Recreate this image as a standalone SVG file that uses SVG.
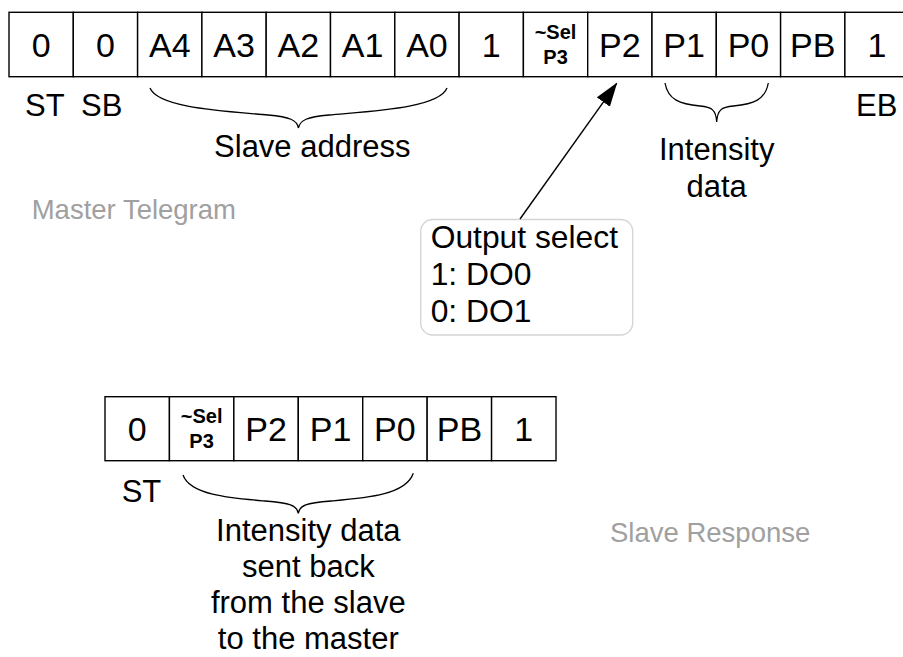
<svg xmlns="http://www.w3.org/2000/svg" width="903" height="657" viewBox="0 0 903 657">
<style>
  text { font-family: "Liberation Sans", Arial, sans-serif; fill: #000; }
  .cell { fill: #fff; stroke: #000; stroke-width: 1.4; }
  .big { font-size: 34px; text-anchor: middle; }
  .sm { font-size: 20px; font-weight: bold; text-anchor: middle; }
  .lbl { font-size: 31px; }
  .note-t { font-size: 31.8px; }
  .mid { text-anchor: middle; }
  .gray { font-size: 27.5px; fill: #a0a0a0; }
  .brace { fill: none; stroke: #000; stroke-width: 1.3; }
  .note { fill: #fff; stroke: #d4d4d4; stroke-width: 1.3; }
  .conn { fill: none; stroke: #000; stroke-width: 1.4; }
</style>
<defs>
  <marker id="arr" markerUnits="userSpaceOnUse" viewBox="0 0 24 16" refX="23" refY="8" markerWidth="24" markerHeight="16" orient="auto">
    <path d="M0,0 L24,8 L0,16 Z" fill="#000"/>
  </marker>
</defs>

<g id="master-telegram">
  <rect class="cell" x="9" y="12.3" width="64.3" height="64.4"/>
  <text class="big" x="41.15" y="56.5">0</text>
  <rect class="cell" x="73.3" y="12.3" width="64.3" height="64.4"/>
  <text class="big" x="105.45" y="56.5">0</text>
  <rect class="cell" x="137.6" y="12.3" width="64.3" height="64.4"/>
  <text class="big" x="169.75" y="56.5">A4</text>
  <rect class="cell" x="201.9" y="12.3" width="64.3" height="64.4"/>
  <text class="big" x="234.05" y="56.5">A3</text>
  <rect class="cell" x="266.2" y="12.3" width="64.3" height="64.4"/>
  <text class="big" x="298.35" y="56.5">A2</text>
  <rect class="cell" x="330.5" y="12.3" width="64.3" height="64.4"/>
  <text class="big" x="362.65" y="56.5">A1</text>
  <rect class="cell" x="394.8" y="12.3" width="64.3" height="64.4"/>
  <text class="big" x="426.95" y="56.5">A0</text>
  <rect class="cell" x="459.1" y="12.3" width="64.3" height="64.4"/>
  <text class="big" x="491.25" y="56.5">1</text>
  <rect class="cell" x="523.4" y="12.3" width="64.3" height="64.4"/>
  <text class="sm" x="555.55" y="38.5">~Sel</text>
  <text class="sm" x="555.55" y="63.5">P3</text>
  <rect class="cell" x="587.7" y="12.3" width="64.3" height="64.4"/>
  <text class="big" x="619.85" y="56.5">P2</text>
  <rect class="cell" x="652" y="12.3" width="64.3" height="64.4"/>
  <text class="big" x="684.15" y="56.5">P1</text>
  <rect class="cell" x="716.3" y="12.3" width="64.3" height="64.4"/>
  <text class="big" x="748.45" y="56.5">P0</text>
  <rect class="cell" x="780.6" y="12.3" width="64.3" height="64.4"/>
  <text class="big" x="812.75" y="56.5">PB</text>
  <rect class="cell" x="844.9" y="12.3" width="64.3" height="64.4"/>
  <text class="big" x="877.05" y="56.5">1</text>
</g>

<g id="master-labels">
  <text class="lbl" x="25" y="116">ST</text>
  <text class="lbl" x="81" y="116">SB</text>
  <text class="lbl" x="856" y="116">EB</text>
  <path class="brace" d="M150,88 C158,108 225,111 268,115 C290,117 297,120 298.4,128 C300,120 307,117 329,115 C372,111 439,108 447,88"/>
  <text class="lbl mid" x="312.3" y="156.7">Slave address</text>
  <path class="brace" d="M665,83 C668,100 680,104 700,106 C712,107 716,110 716.7,122 C717.4,110 721.4,107 733.4,106 C753.4,104 765.4,100 768.3,83"/>
  <text class="lbl mid" x="716.7" y="160">Intensity</text>
  <text class="lbl mid" x="716.7" y="196.7">data</text>
  <text class="gray" x="31.7" y="218.5">Master Telegram</text>
</g>

<g id="output-select">
  <rect class="note" x="420.7" y="219.5" width="212" height="115.5" rx="12" ry="12"/>
  <text class="note-t" x="430.7" y="248.3">Output select</text>
  <text class="note-t" x="430.7" y="285">1: DO0</text>
  <text class="note-t" x="430.7" y="321.7">0: DO1</text>
</g>

<g id="connectors">
  <line class="conn" x1="520" y1="219" x2="616.7" y2="83.3" marker-end="url(#arr)"/>
</g>

<g id="slave-response">
  <rect class="cell" x="105" y="396.7" width="64.43" height="64"/>
  <text class="big" x="137.2" y="440.5">0</text>
  <rect class="cell" x="169.43" y="396.7" width="64.43" height="64"/>
  <text class="sm" x="201.6" y="422.9">~Sel</text>
  <text class="sm" x="201.6" y="447.9">P3</text>
  <rect class="cell" x="233.86" y="396.7" width="64.43" height="64"/>
  <text class="big" x="266.1" y="440.5">P2</text>
  <rect class="cell" x="298.29" y="396.7" width="64.43" height="64"/>
  <text class="big" x="330.5" y="440.5">P1</text>
  <rect class="cell" x="362.72" y="396.7" width="64.43" height="64"/>
  <text class="big" x="394.9" y="440.5">P0</text>
  <rect class="cell" x="427.15" y="396.7" width="64.43" height="64"/>
  <text class="big" x="459.4" y="440.5">PB</text>
  <rect class="cell" x="491.58" y="396.7" width="64.43" height="64"/>
  <text class="big" x="523.8" y="440.5">1</text>
</g>

<g id="slave-labels">
  <text class="lbl" x="121.7" y="501.7">ST</text>
  <path class="brace" d="M183,475 C190,495 230,498 265,501 C290,503 297,505 298.3,513.3 C299.6,505 306,503 331,501 C366,498 406,495 413.3,473.3"/>
  <text class="lbl mid" x="308.3" y="541">Intensity data</text>
  <text class="lbl mid" x="308.3" y="577">sent back</text>
  <text class="lbl mid" x="308.3" y="613">from the slave</text>
  <text class="lbl mid" x="308.3" y="649">to the master</text>
  <text class="gray" x="610" y="542">Slave Response</text>
</g>
</svg>
